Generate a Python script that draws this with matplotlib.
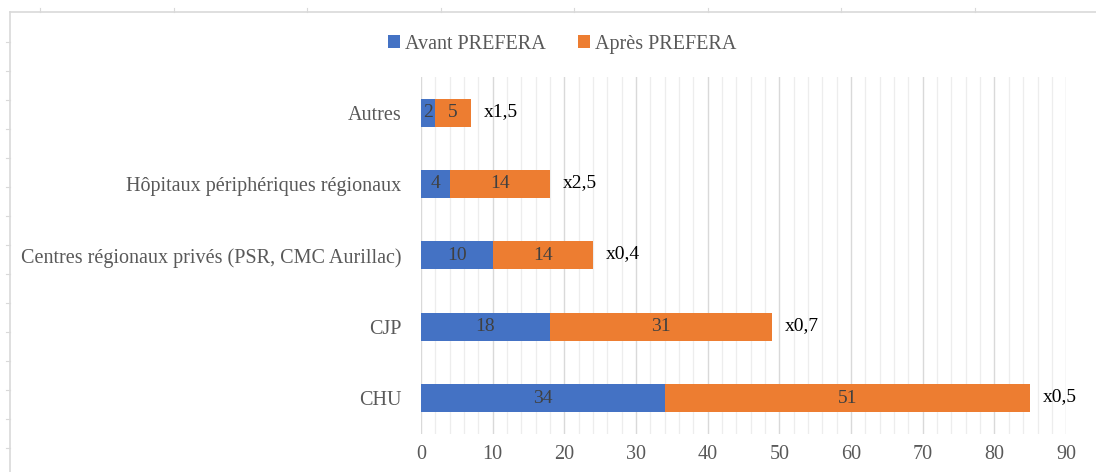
import numpy as np
import matplotlib.pyplot as plt
from matplotlib.lines import Line2D

plt.rcParams['font.family'] = ['Liberation Serif', 'DejaVu Serif']

# data
categories = ['CHU', 'CJP', 'Centres régionaux privés (PSR, CMC Aurillac)',
              'Hôpitaux périphériques régionaux', 'Autres']
avant = [34, 18, 10, 4, 2]
apres = [51, 31, 14, 14, 5]
ratios = ['x0,5', 'x0,7', 'x0,4', 'x2,5', 'x1,5']
xticks = [0, 10, 20, 30, 40, 50, 60, 70, 80, 90]

blue = '#4472C4'
orange = '#ED7D31'

fig = plt.figure(figsize=(10.96, 4.72), dpi=100)
ax = fig.add_axes([0.384, 0.081, 0.5888, 0.756])

y = np.arange(len(categories))
h = 0.39
b1 = ax.barh(y, avant, height=h, color=blue, label='Avant PREFERA', zorder=3)
b2 = ax.barh(y, apres, left=avant, height=h, color=orange, label='Après PREFERA', zorder=3)

ax.bar_label(b1, label_type='center', color='#404040', fontsize=14)
ax.bar_label(b2, label_type='center', color='#404040', fontsize=14)

totals = [a + p for a, p in zip(avant, apres)]
for yi, t, r in zip(y, totals, ratios):
    ax.annotate(r, (t, yi), xytext=(9, 1), textcoords='offset points',
                va='center', ha='left', fontsize=14, color='black')

ax.set_xlim(0, 90)
ax.set_ylim(-0.5, len(categories) - 0.5)
ax.set_xticks(xticks)
ax.set_xticks(np.arange(0, 91, 2), minor=True)
ax.set_yticks(y)
ax.set_yticklabels(categories)
ax.tick_params(axis='both', length=0, labelsize=14.5, labelcolor='#595959', which='both')
ax.tick_params(axis='y', pad=14)
ax.tick_params(axis='x', pad=8)
ax.grid(axis='x', which='major', color='#D9D9D9', lw=1.0, zorder=0)
ax.grid(axis='x', which='minor', color='#EDEDED', lw=0.9, zorder=0)
for s in ax.spines.values():
    s.set_visible(False)

fig.legend(loc='upper center', bbox_to_anchor=(0.513, 0.965), ncol=2, frameon=False,
           fontsize=14.5, handlelength=0.6, handleheight=0.6, handletextpad=0.25,
           columnspacing=1.6, labelcolor='#595959')

# light spreadsheet frame
fig.add_artist(Line2D([10 / 1096, 10 / 1096], [0, 1 - 12 / 472], color='#D9D9D9', lw=1.2,
                      transform=fig.transFigure))
fig.add_artist(Line2D([10 / 1096, 1], [1 - 12 / 472, 1 - 12 / 472], color='#D9D9D9', lw=1.2,
                      transform=fig.transFigure))
for yy in np.arange(42, 472, 29):
    fig.add_artist(Line2D([6 / 1096, 10 / 1096], [1 - yy / 472] * 2, color='#D9D9D9', lw=0.8,
                          transform=fig.transFigure))
for xx in np.arange(40, 1096, 133.5):
    fig.add_artist(Line2D([xx / 1096] * 2, [1 - 12 / 472, 1 - 8 / 472], color='#D9D9D9', lw=0.8,
                          transform=fig.transFigure))

fig.savefig('out.png', dpi=100, facecolor='white')
